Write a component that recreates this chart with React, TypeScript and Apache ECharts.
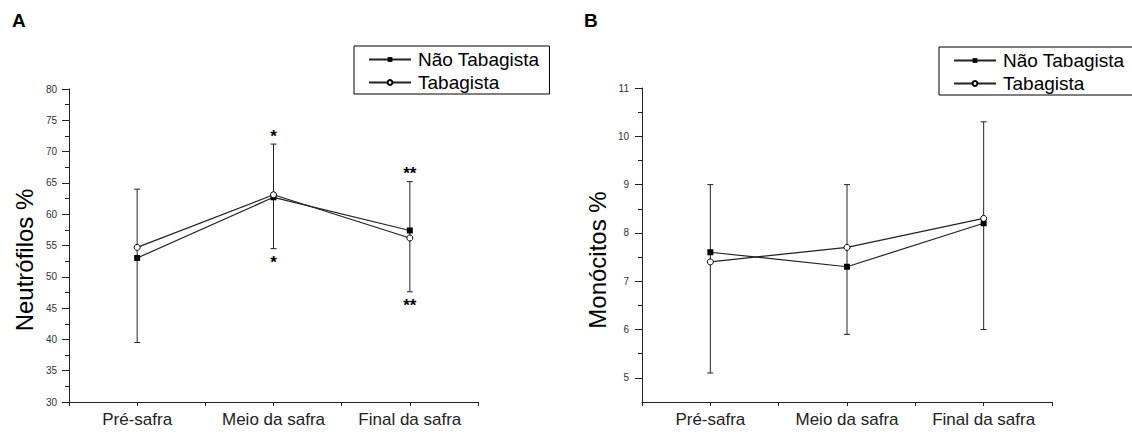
import React, { useEffect, useRef } from "react";
import * as echarts from "echarts";

const categories = ["Pré-safra", "Meio da safra", "Final da safra"];
const seriesNames = ["Não Tabagista", "Tabagista"];

// Panel A – Neutrófilos %
const neutroNaoTabagista = [53.0, 62.7, 57.4];
const neutroTabagista = [54.7, 63.1, 56.2];
const neutroErrLow = [39.5, 54.5, 47.6];
const neutroErrHigh = [64.0, 71.2, 65.2];
const neutroMarkTop = ["", "*", "**"];
const neutroMarkBottom = ["", "*", "**"];

// Panel B – Monócitos %
const monoNaoTabagista = [7.6, 7.3, 8.2];
const monoTabagista = [7.4, 7.7, 8.3];
const monoErrLow = [5.1, 5.9, 6.0];
const monoErrHigh = [9.0, 9.0, 10.3];
const monoMarkTop = ["", "", ""];
const monoMarkBottom = ["", "", ""];
const monoMajorTicks = [5, 6, 7, 8, 9, 10, 11];
const monoMinorTicks = [5.5, 6.5, 7.5, 8.5, 9.5, 10.5];

const FONT = "'Liberation Sans', Arial, sans-serif";
const INK = "#222";

function errorRenderer(marksTop: string[], marksBottom: string[]) {
  return (params: any, api: any) => {
    const x = api.value(0);
    const lo = api.coord([x, api.value(1)]);
    const hi = api.coord([x, api.value(2)]);
    const cap = 3;
    const style = { stroke: INK, lineWidth: 1 };
    const children: any[] = [
      { type: "line", shape: { x1: lo[0], y1: lo[1], x2: hi[0], y2: hi[1] }, style },
      { type: "line", shape: { x1: lo[0] - cap, y1: lo[1], x2: lo[0] + cap, y2: lo[1] }, style },
      { type: "line", shape: { x1: hi[0] - cap, y1: hi[1], x2: hi[0] + cap, y2: hi[1] }, style },
    ];
    const t = marksTop[params.dataIndex];
    if (t) {
      children.push({
        type: "text",
        x: hi[0],
        y: hi[1] - 8,
        style: { text: t, font: `bold 17px ${FONT}`, fill: "#000", align: "center", verticalAlign: "middle" },
      });
    }
    const b = marksBottom[params.dataIndex];
    if (b) {
      children.push({
        type: "text",
        x: lo[0],
        y: lo[1] + 14,
        style: { text: b, font: `bold 17px ${FONT}`, fill: "#000", align: "center", verticalAlign: "middle" },
      });
    }
    return { type: "group", children };
  };
}

function catAxis(gridIndex: number, withLabels: boolean) {
  return {
    type: "category",
    gridIndex,
    position: "bottom",
    data: categories,
    boundaryGap: true,
    axisLine: { show: withLabels, lineStyle: { color: INK, width: 1 } },
    axisTick: { show: true, alignWithLabel: !withLabels, length: 4, lineStyle: { color: INK } },
    axisLabel: { show: withLabels, fontSize: 17, color: "#222", margin: 9, fontFamily: FONT },
    splitLine: { show: false },
  };
}

function lineSeries(name: string, data: number[], xi: number, yi: number, filled: boolean) {
  return {
    type: "line",
    name,
    xAxisIndex: xi,
    yAxisIndex: yi,
    data,
    symbol: filled ? "rect" : "circle",
    symbolSize: 6,
    showSymbol: true,
    lineStyle: { color: INK, width: 1.2 },
    itemStyle: filled
      ? { color: "#000", borderWidth: 0 }
      : { color: "#fff", borderColor: "#000", borderWidth: 1 },
    z: 3,
  };
}

function legendAt(left: number, top: number) {
  return {
    left,
    top,
    orient: "vertical",
    data: seriesNames,
    borderColor: "#000",
    borderWidth: 1,
    padding: [4, 10, 2, 14],
    itemWidth: 42,
    itemHeight: 6,
    itemGap: 4,
    textStyle: { fontSize: 19, color: "#000", fontFamily: FONT, lineHeight: 19, padding: [0, 0, 0, 2] },
  };
}

export default function App() {
  const ref = useRef<HTMLDivElement>(null);
  useEffect(() => {
    if (!ref.current) return;
    const chart = echarts.init(ref.current, null, { renderer: "svg" });
    const option: any = {
      animation: false,
      backgroundColor: "#fff",
      textStyle: { fontFamily: FONT },
      grid: [
        { left: 69, top: 89, width: 409, height: 313 },
        { left: 642, top: 88, width: 410, height: 314 },
      ],
      xAxis: [catAxis(0, true), catAxis(0, false), catAxis(1, true), catAxis(1, false)],
      yAxis: [
        {
          type: "value",
          gridIndex: 0,
          position: "left",
          min: 30,
          max: 80,
          interval: 5,
          axisLine: { show: true, lineStyle: { color: INK } },
          axisTick: { show: true, length: 7, lineStyle: { color: INK } },
          minorTick: { show: true, splitNumber: 2, length: 4, lineStyle: { color: INK } },
          axisLabel: { fontSize: 10, color: "#333", margin: 12, fontFamily: FONT },
          splitLine: { show: false },
        },
        {
          type: "value",
          gridIndex: 1,
          position: "left",
          min: 4.5,
          max: 11,
          axisLine: { show: true, lineStyle: { color: INK } },
          axisTick: { show: true, length: 7, customValues: monoMajorTicks, lineStyle: { color: INK } },
          axisLabel: { fontSize: 10, color: "#333", margin: 13, fontFamily: FONT, customValues: monoMajorTicks },
          splitLine: { show: false },
        },
        {
          type: "value",
          gridIndex: 1,
          position: "left",
          offset: 0,
          min: 4.5,
          max: 11,
          axisLine: { show: false },
          axisTick: { show: true, length: 4, customValues: monoMinorTicks, lineStyle: { color: INK } },
          axisLabel: { show: false },
          splitLine: { show: false },
        },
      ],
      legend: [legendAt(354, 46), legendAt(939, 47)],
      series: [
        {
          type: "custom",
          name: "errA",
          xAxisIndex: 0,
          yAxisIndex: 0,
          data: neutroErrLow.map((lo, i) => [i, lo, neutroErrHigh[i]]),
          encode: { x: 0, y: [1, 2] },
          renderItem: errorRenderer(neutroMarkTop, neutroMarkBottom),
          z: 1,
        },
        lineSeries(seriesNames[0], neutroNaoTabagista, 0, 0, true),
        lineSeries(seriesNames[1], neutroTabagista, 0, 0, false),
        {
          type: "custom",
          name: "errB",
          xAxisIndex: 2,
          yAxisIndex: 1,
          data: monoErrLow.map((lo, i) => [i, lo, monoErrHigh[i]]),
          encode: { x: 0, y: [1, 2] },
          renderItem: errorRenderer(monoMarkTop, monoMarkBottom),
          z: 1,
        },
        lineSeries(seriesNames[0], monoNaoTabagista, 2, 1, true),
        lineSeries(seriesNames[1], monoTabagista, 2, 1, false),
      ],
      graphic: [
        { type: "text", x: 12, y: 20, style: { text: "A", font: `bold 19px ${FONT}`, fill: "#000", verticalAlign: "middle" } },
        { type: "text", x: 584, y: 20, style: { text: "B", font: `bold 19px ${FONT}`, fill: "#000", verticalAlign: "middle" } },
        {
          type: "text",
          x: 24,
          y: 260,
          rotation: Math.PI / 2,
          style: { text: "Neutrófilos %", font: `24px ${FONT}`, fill: "#000", align: "center", verticalAlign: "middle" },
        },
        {
          type: "text",
          x: 597,
          y: 260,
          rotation: Math.PI / 2,
          style: { text: "Monócitos %", font: `24px ${FONT}`, fill: "#000", align: "center", verticalAlign: "middle" },
        },
      ],
    };
    chart.setOption(option);
    return () => chart.dispose();
  }, []);
  return (
    <div
      ref={ref}
      style={{ position: "fixed", left: 0, top: 0, width: 1132, height: 434, background: "#fff" }}
    />
  );
}
